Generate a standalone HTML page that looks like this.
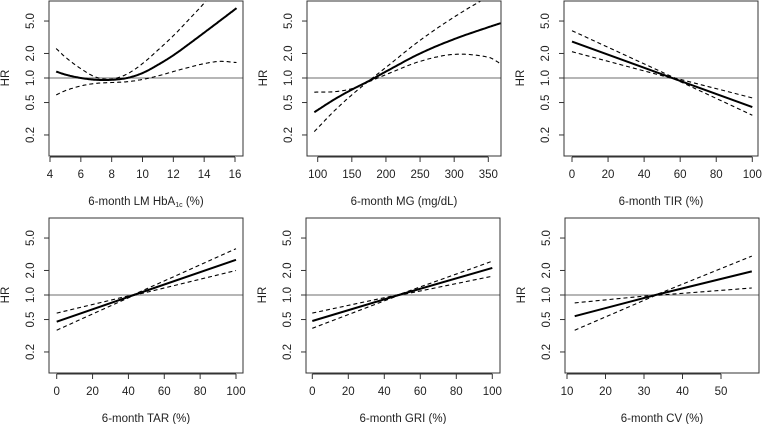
<!DOCTYPE html>
<html><head><meta charset="utf-8"><style>
html,body{margin:0;padding:0;background:#fff;}
svg{display:block;font-family:"Liberation Sans",Arial,sans-serif;}
</style></head><body>
<svg id="chart" width="763" height="424" viewBox="0 0 763 424"></svg>
<script>
// ---- data ----
const p1X = [4.4,5,6,7,8,9,10,11,12,13,14,15,16.1];
const p1Fit = [1.2,1.1,1.0,0.95,0.95,1.0,1.15,1.45,1.9,2.6,3.6,5.0,7.2];
const p1Up = [2.3,1.8,1.3,1.02,0.97,1.12,1.5,2.2,3.3,5.2,8.3,14,25];
const p1Lo = [0.62,0.7,0.8,0.86,0.88,0.9,0.96,1.06,1.2,1.35,1.5,1.6,1.55];
const p2X = [95,125,150,175,200,250,300,350,368];
const p2Fit = [0.38,0.55,0.72,0.92,1.2,2.0,3.0,4.2,4.7];
const p2Up = [0.22,0.4,0.62,0.92,1.35,2.9,5.6,10,12];
const p2Lo = [0.67,0.68,0.74,0.9,1.1,1.6,1.95,1.8,1.5];
const p3X = [0,57,100];
const p3Fit = [2.8,0.975,0.44];
const p3Up = [3.8,1.0,0.57];
const p3Lo = [2.1,0.97,0.35];
const p4X = [0,43,100];
const p4Fit = [0.47,1.0,2.7];
const p4Up = [0.6,1.01,3.7];
const p4Lo = [0.37,0.99,2.0];
const p5X = [0,48,100];
const p5Fit = [0.48,1.0,2.15];
const p5Up = [0.6,1.01,2.6];
const p5Lo = [0.39,0.99,1.7];
const p6X = [12,33,58];
const p6Fit = [0.55,1.0,1.95];
const p6Up = [0.8,1.0,3.0];
const p6Lo = [0.37,0.99,1.22];
const yTicks = [0.2,0.5,1.0,2.0,5.0];
const yTickLabels = ["0.2","0.5","1.0","2.0","5.0"];
const xTicks1 = [4,6,8,10,12,14,16];
const xTicks2 = [100,150,200,250,300,350];
const xTicks3 = [0,20,40,60,80,100];
const xTicks6 = [10,20,30,40,50];
const titles = ["6-month LM HbA","6-month MG (mg/dL)","6-month TIR (%)","6-month TAR (%)","6-month GRI (%)","6-month CV (%)"];

const panels = [
 {x:p1X,f:p1Fit,u:p1Up,l:p1Lo,ticks:xTicks1,L:49,T:1,a:[4,50],b:[16,235],name:'hba1c',smooth:true},
 {x:p2X,f:p2Fit,u:p2Up,l:p2Lo,ticks:xTicks2,L:307,T:1,a:[100,317.7],b:[350,488.3],name:'mg',smooth:true},
 {x:p3X,f:p3Fit,u:p3Up,l:p3Lo,ticks:xTicks3,L:564,T:1,a:[0,572],b:[100,752.3],name:'tir',smooth:false},
 {x:p4X,f:p4Fit,u:p4Up,l:p4Lo,ticks:xTicks3,L:49,T:218,a:[0,56.7],b:[100,236],name:'tar',smooth:false},
 {x:p5X,f:p5Fit,u:p5Up,l:p5Lo,ticks:xTicks3,L:306,T:218,a:[0,312.3],b:[100,492.3],name:'gri',smooth:false},
 {x:p6X,f:p6Fit,u:p6Up,l:p6Lo,ticks:xTicks6,L:565,T:218,a:[10,567],b:[50,721],name:'cv',smooth:false}
];
const W=194,H=155,PPD=81.5,ONE=77;
const NS="http://www.w3.org/2000/svg";
const svg=document.getElementById('chart');
function mk(tag,attrs,parent){const e=document.createElementNS(NS,tag);for(const k in attrs)e.setAttribute(k,attrs[k]);(parent||svg).appendChild(e);return e;}

function sample(xs,ys,smooth){
  const ly=ys.map(v=>Math.log10(v));const out=[];
  if(!smooth){return xs.map((x,i)=>[x,ly[i]]);}
  for(let i=0;i<xs.length-1;i++){
    const x0=xs[i],x1=xs[i+1];
    const m=(k)=>{ if(k<=0) return (ly[1]-ly[0])/(xs[1]-xs[0]); if(k>=xs.length-1) return (ly[k]-ly[k-1])/(xs[k]-xs[k-1]); return (ly[k+1]-ly[k-1])/(xs[k+1]-xs[k-1]);};
    const m0=m(i),m1=m(i+1),h=x1-x0;
    for(let s=0;s<20;s++){const t=s/20;const h00=2*t*t*t-3*t*t+1,h10=t*t*t-2*t*t+t,h01=-2*t*t*t+3*t*t,h11=t*t*t-t*t;
      out.push([x0+t*h,h00*ly[i]+h10*h*m0+h01*ly[i+1]+h11*h*m1]);}
  }
  out.push([xs[xs.length-1],ly[ly.length-1]]);return out;
}

panels.forEach((p,i)=>{
  const g=mk('g',{});
  
  
  const sx=v=>p.a[1]+(v-p.a[0])*(p.b[1]-p.a[1])/(p.b[0]-p.a[0]);
  const yOne=p.T+ONE;
  const sy=v=>yOne-Math.log10(v)*PPD;
  const syl=lv=>yOne-lv*PPD;
  const cid='clip'+i;
  const cp=mk('clipPath',{id:cid},g);mk('rect',{x:p.L,y:p.T,width:W,height:H},cp);
  const ref=mk('line',{x1:p.L,x2:p.L+W,y1:sy(1),y2:sy(1),stroke:'#8a8a8a','stroke-width':1.2},g);
  
  
  const lines=[[p.u,'upper-ci',1.1,'4,3'],[p.l,'lower-ci',1.1,'4,3'],[p.f,'hr-fit',2,'']];
  lines.forEach(([ys,nm,w,d])=>{
    const pts=sample(p.x,ys,p.smooth).map(q=>sx(q[0]).toFixed(1)+','+syl(q[1]).toFixed(1)).join(' ');
    const pl=mk('polyline',{points:pts,fill:'none',stroke:'#000','stroke-width':w,'stroke-dasharray':d,'clip-path':'url(#'+cid+')'},g);
    
    
  });
  const box=mk('rect',{x:p.L,y:p.T,width:W,height:H,fill:'none',stroke:'#333','stroke-width':1},g);
  
  
  yTicks.forEach((t,k)=>{
    const y=sy(t);
    mk('line',{x1:p.L-5,x2:p.L,y1:y,y2:y,stroke:'#333'},g);
    const tx=mk('text',{x:0,y:0,transform:`translate(${p.L-15},${y}) rotate(-90)`,'text-anchor':'middle','font-size':11.5,fill:'#222'},g);
    tx.textContent=yTickLabels[k];
    
    
  });
  const hr=mk('text',{x:0,y:0,transform:`translate(${p.L-40},${yOne}) rotate(-90)`,'text-anchor':'middle','font-size':11.5,fill:'#222'},g);
  hr.textContent='HR';
  
  
  const xa=p.ticks.map(sx);
  mk('line',{x1:xa[0],x2:xa[xa.length-1],y1:p.T+H+1,y2:p.T+H+1,stroke:'#333'},g);
  p.ticks.forEach((t,k)=>{
    mk('line',{x1:xa[k],x2:xa[k],y1:p.T+H+1,y2:p.T+H+6,stroke:'#333'},g);
    const tx=mk('text',{x:xa[k],y:p.T+H+22,'text-anchor':'middle','font-size':11.5,fill:'#222'},g);
    tx.textContent=String(t);
    
    
  });
  const xt=mk('text',{x:p.L+W/2,y:p.T+H+49,'text-anchor':'middle','font-size':11.5,fill:'#222'},g);
  xt.textContent=titles[i];
  if(i===0){const s=mk('tspan',{'font-size':7,dy:2},xt);s.textContent='1c';const s2=mk('tspan',{dy:-2},xt);s2.textContent=' (%)';}
  
  
});
</script>
</body></html>
